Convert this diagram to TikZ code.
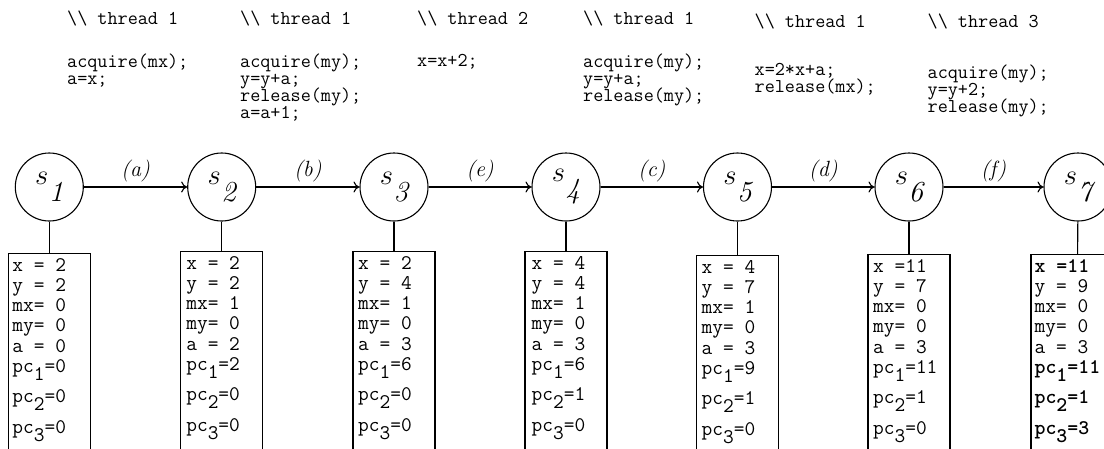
\documentclass[tikz,border=0pt]{standalone}
\usepackage{fontspec}
\usetikzlibrary{arrows.meta}
\lineskiplimit=-100pt
\newcommand\psub[1]{\raisebox{-8pt}{#1}}
\newcommand\slab[1]{{\fontsize{24.88}{25}\selectfont\scalebox{1.15}{$s$}}\kern0.5pt\raisebox{-17pt}{\fontsize{29}{29}\selectfont\itshape #1}}
\newcommand\thr[1]{\textbackslash\textbackslash\ thread #1}
\tikzset{
  st/.style={circle, draw, line width=1.1pt, minimum size=68pt, inner sep=0pt},
  arr/.style={line width=1.1pt, -{To[length=6pt,width=11pt]}},
  lab/.style={anchor=base, yshift=11pt, inner sep=0pt, font=\fontsize{22}{22}\selectfont\itshape},
  hdr/.style={anchor=base west, inner sep=0pt, font=\fontsize{19.6}{17.2}\selectfont\ttfamily},
  code/.style={anchor=north west, align=left, inner sep=0pt, font=\fontsize{19.6}{17.2}\selectfont\ttfamily},
  sbox/.style={draw, line width=1.1pt, minimum width=82pt, minimum height=220pt, anchor=north, inner sep=0pt},
  stxt/.style={anchor=north west, align=left, inner sep=0pt, font=\fontsize{20.8}{20.2}\selectfont\ttfamily},
  link/.style={line width=1.1pt}
}
\newcommand\stbox[5]{%
  \node[sbox] (b#1) at (#2,#3) {};
  \node[stxt] (t#1) at ([xshift=#4pt,yshift=-5pt]b#1.north west) {\rule{0pt}{13pt}#5};
  \draw[link] (s#1) -- (b#1);
}
\begin{document}
\begin{tikzpicture}[x=1pt,y=-1pt]
\useasboundingbox (0,0) rectangle (1104,448);
\clip (0,0) rectangle (1104,448);

% code columns
\node[hdr] (h1) at (67,24) {\thr{1}};
\node[hdr] (h2) at (240,24) {\thr{1}};
\node[hdr] (h3) at (417,24) {\thr{2}};
\node[hdr] (h4) at (583,24) {\thr{1}};
\node[hdr] (h5) at (754.5,27) {\thr{1}};
\node[hdr] (h6) at (927.5,27) {\thr{3}};

\node[code] (k1) at (67,51) {\rule{0pt}{16pt}acquire(mx);\\a=x;};
\node[code] (k2) at (240,51) {\rule{0pt}{16pt}acquire(my);\\y=y+a;\\release(my);\\a=a+1;};
\node[code] (k3) at (417,50) {\rule{0pt}{16pt}x=x+2;};
\node[code] (k4) at (583,51) {\rule{0pt}{16pt}acquire(my);\\y=y+a;\\release(my);};
\node[code] (k5) at (754.5,59) {\rule{0pt}{16pt}x=2*x+a;\\release(mx);};
\node[code] (k6) at (927.5,62) {\rule{0pt}{16pt}acquire(my);\\y=y+2;\\release(my);};

% states
\node[st] (s1) at (49.3,187) {\slab{1}};
\node[st] (s2) at (221.7,187) {\slab{2}};
\node[st] (s3) at (394,187) {\slab{3}};
\node[st] (s4) at (566,187) {\slab{4}};
\node[st] (s5) at (737.5,187) {\slab{5}};
\node[st] (s6) at (909,187) {\slab{6}};
\node[st] (s7) at (1078,187) {\slab{7}};

\draw[arr] (s1) -- node[lab] {(a)} (s2);
\draw[arr] (s2) -- node[lab] {(b)} (s3);
\draw[arr] (s3) -- node[lab] {(e)} (s4);
\draw[arr] (s4) -- node[lab] {(c)} (s5);
\draw[arr] (s5) -- node[lab] {(d)} (s6);
\draw[arr] (s6) -- node[lab] {(f)} (s7);

% state boxes
\stbox{1}{49.3}{253}{4.5}{x = 2\\y = 2\\mx= 0\\my= 0\\a = 0\\pc\psub{1}=0\\[10.5pt]pc\psub{2}=0\\[10.5pt]pc\psub{3}=0}
\stbox{2}{221.7}{251}{6}{x = 2\\y = 2\\mx= 1\\my= 0\\a = 2\\pc\psub{1}=2\\[10.5pt]pc\psub{2}=0\\[10.5pt]pc\psub{3}=0}
\stbox{3}{394}{251}{5.5}{x = 2\\y = 4\\mx= 1\\my= 0\\a = 3\\pc\psub{1}=6\\[10.5pt]pc\psub{2}=0\\[10.5pt]pc\psub{3}=0}
\stbox{4}{566}{251}{7}{x = 4\\y = 4\\mx= 1\\my= 0\\a = 3\\pc\psub{1}=6\\[10.5pt]pc\psub{2}=1\\[10.5pt]pc\psub{3}=0}
\stbox{5}{737.5}{255}{5.5}{x = 4\\y = 7\\mx= 1\\my= 0\\a = 3\\pc\psub{1}=9\\[10.5pt]pc\psub{2}=1\\[10.5pt]pc\psub{3}=0}
\stbox{6}{909}{254}{5.5}{x =11\\y = 7\\mx= 0\\my= 0\\a = 3\\pc\psub{1}=11\\[10.5pt]pc\psub{2}=1\\[10.5pt]pc\psub{3}=0}
\node[sbox, minimum width=92pt] (b7) at (1077,254) {};
\node[stxt] (t7) at ([xshift=4pt,yshift=-5pt]b7.north west) {\rule{0pt}{13pt}\textbf{x =11}\\y = 9\\mx= 0\\my= 0\\a = 3\\\textbf{pc\psub{1}=11}\\[10.5pt]\textbf{pc\psub{2}=1}\\[10.5pt]\textbf{pc\psub{3}=3}};
\draw[link] (s7) -- (b7);
\end{tikzpicture}
\end{document}
